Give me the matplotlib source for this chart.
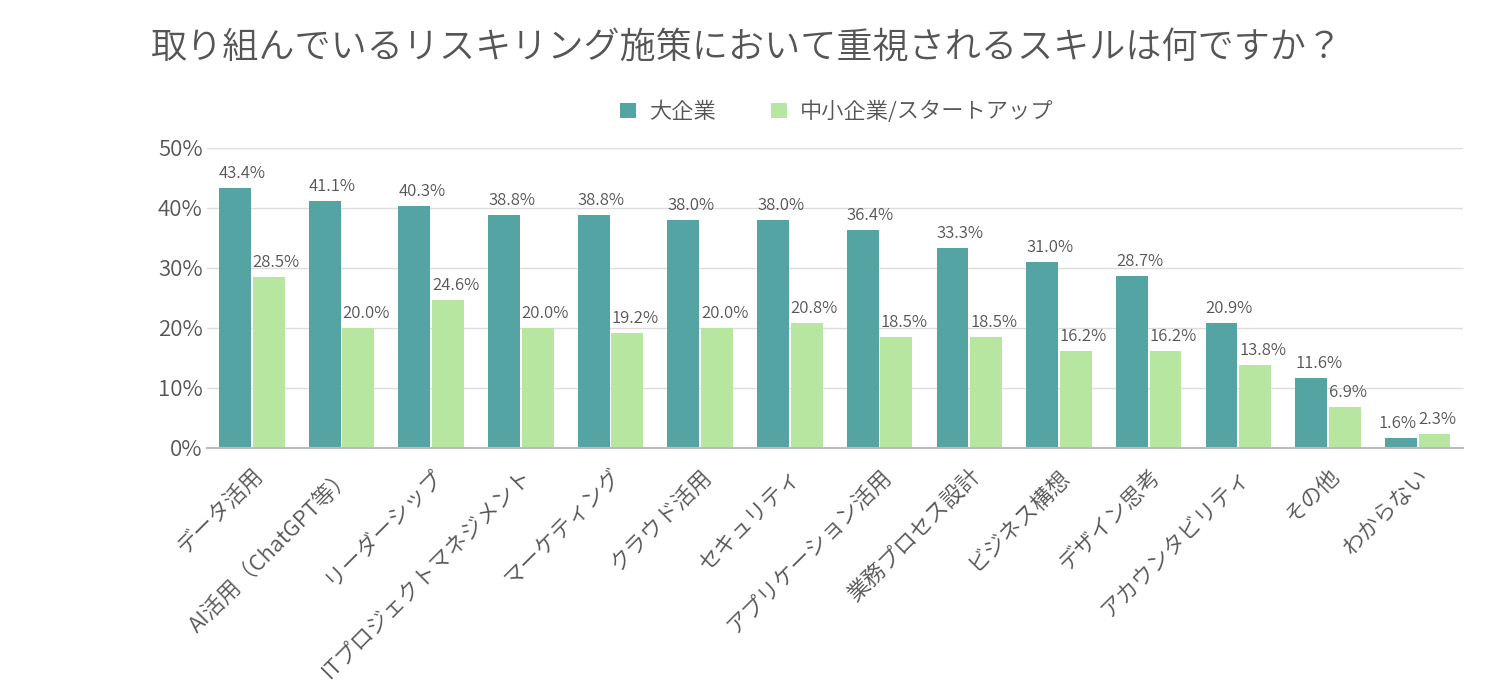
import matplotlib
matplotlib.use("Agg")
import matplotlib.pyplot as plt
import matplotlib.transforms as mtransforms
import numpy as np

plt.rcParams['font.family'] = ['Noto Sans CJK JP', 'DejaVu Sans']

categories = ["データ活用", "AI活用（ChatGPT等）", "リーダーシップ", "ITプロジェクトマネジメント",
              "マーケティング", "クラウド活用", "セキュリティ", "アプリケーション活用",
              "業務プロセス設計", "ビジネス構想", "デザイン思考", "アカウンタビリティ",
              "その他", "わからない"]
large = [43.4, 41.1, 40.3, 38.8, 38.8, 38.0, 38.0, 36.4, 33.3, 31.0, 28.7, 20.9, 11.6, 1.6]
small = [28.5, 20.0, 24.6, 20.0, 19.2, 20.0, 20.8, 18.5, 18.5, 16.2, 16.2, 13.8, 6.9, 2.3]
series_names = ["大企業", "中小企業/スタートアップ"]
yticks = [0, 10, 20, 30, 40, 50]

c1 = "#55A4A4"
c2 = "#B6E6A0"
txt = "#555555"
W = 350

fig = plt.figure(figsize=(15, 7), dpi=100)
ax = fig.add_axes([0.138, 0.36, 0.837, 0.4286])

x = np.arange(len(categories))
w = 0.355
b1 = ax.bar(x - w/2 - 0.01, large, w, color=c1, label=series_names[0], zorder=3)
b2 = ax.bar(x + w/2 + 0.01, small, w, color=c2, label=series_names[1], zorder=3)

for rect, v, other in zip(b1, large, small):
    if abs(v - other) < 4:
        xp, ha = rect.get_x() + rect.get_width(), 'right'
    else:
        xp, ha = rect.get_x(), 'left'
    ax.text(xp, v + 1.0, f"{v:.1f}%", ha=ha, va='bottom',
            fontsize=12, color=txt, fontweight=W)
for rect, v in zip(b2, small):
    ax.text(rect.get_x(), v + 1.0, f"{v:.1f}%", ha='left', va='bottom',
            fontsize=12, color=txt, fontweight=W)

ax.set_xlim(-0.5, len(categories) - 0.5)
ax.set_ylim(0, 50)
ax.set_yticks(yticks)
ax.set_yticklabels([f"{t}%" for t in yticks], fontsize=16, color=txt, fontweight=W)
ax.set_xticks(x)
ax.set_xticklabels(categories, rotation=45, ha='right', rotation_mode='anchor',
                   fontsize=16, color=txt, fontweight=W)
offset = mtransforms.ScaledTranslation(5/100, 0, fig.dpi_scale_trans)
for lbl in ax.get_xticklabels():
    lbl.set_transform(lbl.get_transform() + offset)
ax.tick_params(axis='x', length=0, pad=12)
ax.tick_params(axis='y', length=0, pad=3)
ax.grid(axis='y', color='#DDDDDD', linewidth=1, zorder=0)
for s in ['top', 'right', 'left']:
    ax.spines[s].set_visible(False)
ax.spines['bottom'].set_color('#BBBBBB')
ax.spines['bottom'].set_linewidth(1.5)
ax.spines['bottom'].set_zorder(4)

fig.text(0.498, 0.933, "取り組んでいるリスキリング施策において重視されるスキルは何ですか？",
         ha='center', va='center', fontsize=26, color=txt, fontweight=W)

fig.legend(handles=[b1, b2], labels=series_names, loc='center', bbox_to_anchor=(0.558, 0.84),
           ncol=2, frameon=False, labelcolor=txt, handlelength=0.7,
           handleheight=0.7, columnspacing=2.5, handletextpad=0.6,
           prop={'size': 16, 'weight': W})

fig.savefig("out.png", dpi=100, facecolor='white')
